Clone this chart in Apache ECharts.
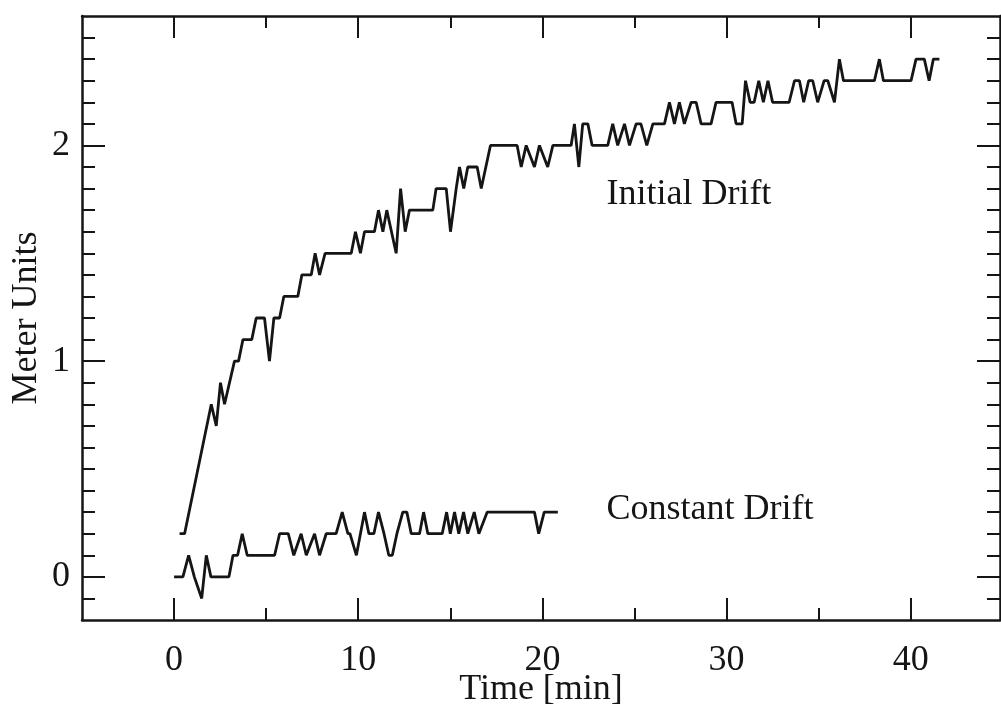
<!DOCTYPE html>
<html><head><meta charset="utf-8">
<script src="https://cdn.jsdelivr.net/npm/echarts@6/dist/echarts.min.js"></script>
<style>html,body{margin:0;padding:0;background:#fff;overflow:hidden}#c{width:1001px;height:711px}</style>
</head><body><div id="c"></div>
<script>
// Initial Drift series (time in min, meter units)
const initTime=[0.3,0.57,2.02,2.29,2.52,2.74,3.28,3.5,3.74,4.22,4.46,4.91,5.18,5.42,5.73,5.96,6.72,6.94,7.45,7.66,7.9,8.2,9.62,9.85,10.12,10.34,10.88,11.1,11.34,11.55,12.06,12.3,12.55,12.78,14.05,14.23,14.78,15.01,15.32,15.5,15.73,15.95,16.46,16.68,17.18,18.63,18.85,19.12,19.57,19.84,20.29,20.57,21.56,21.74,21.98,22.19,22.47,22.7,23.55,23.82,24.09,24.46,24.73,25.09,25.35,25.67,26.0,26.63,26.9,27.17,27.44,27.71,28.08,28.35,28.62,29.16,29.43,30.3,30.52,30.85,31.03,31.28,31.5,31.75,32.0,32.25,32.5,33.4,33.69,33.96,34.19,34.46,34.68,34.95,35.3,35.5,35.86,36.13,36.35,38.03,38.3,38.52,40.02,40.29,40.74,41.0,41.23,41.56];
const initValue=[0.2,0.2,0.8,0.7,0.9,0.8,1.0,1.0,1.1,1.1,1.2,1.2,1.0,1.2,1.2,1.3,1.3,1.4,1.4,1.5,1.4,1.5,1.5,1.6,1.5,1.6,1.6,1.7,1.6,1.7,1.5,1.8,1.6,1.7,1.7,1.8,1.8,1.6,1.8,1.9,1.8,1.9,1.9,1.8,2.0,2.0,1.9,2.0,1.9,2.0,1.9,2.0,2.0,2.1,1.9,2.1,2.1,2.0,2.0,2.1,2.0,2.1,2.0,2.1,2.1,2.0,2.1,2.1,2.2,2.1,2.2,2.1,2.2,2.2,2.1,2.1,2.2,2.2,2.1,2.1,2.3,2.2,2.2,2.3,2.2,2.3,2.2,2.2,2.3,2.3,2.2,2.3,2.3,2.2,2.3,2.3,2.2,2.4,2.3,2.3,2.4,2.3,2.3,2.4,2.4,2.3,2.4,2.4];
// Constant Drift series
const constTime=[0,0.48,0.79,1.1,1.2,1.5,1.75,2.0,2.98,3.2,3.45,3.7,3.97,5.46,5.73,6.2,6.5,6.9,7.18,7.63,7.9,8.26,8.8,9.13,9.44,9.55,9.9,10.0,10.34,10.58,10.85,11.1,11.4,11.66,11.85,12.1,12.42,12.64,12.88,13.33,13.55,13.78,14.56,14.8,15.0,15.23,15.46,15.72,15.95,16.3,16.55,17.0,19.57,19.8,20.1,20.84];
const constValue=[0,0,0.1,0,0,-0.1,0.1,0,0,0.1,0.1,0.2,0.1,0.1,0.2,0.2,0.1,0.2,0.1,0.2,0.1,0.2,0.2,0.3,0.2,0.2,0.1,0.1,0.3,0.2,0.2,0.3,0.2,0.1,0.1,0.2,0.3,0.3,0.2,0.2,0.3,0.2,0.2,0.3,0.2,0.3,0.2,0.3,0.2,0.3,0.2,0.3,0.3,0.2,0.3,0.3];
// Ticks
const xMajorTicks=[0,10,20,30,40];
const xMinorTicks=[5,15,25,35];
const yMajorTicks=[0,1,2];
const yMinorTicks=[-0.1,0.1,0.2,0.3,0.4,0.5,0.6,0.7,0.8,0.9,1.1,1.2,1.3,1.4,1.5,1.6,1.7,1.8,1.9,2.1,2.2,2.3,2.4,2.5];
// Labels
const xName='Time [min]';
const yName='Meter Units';
const initLabel='Initial Drift';
const constLabel='Constant Drift';

const FONT="'Liberation Serif','DejaVu Serif',serif";
const INK='#151515';
const X_MIN=-5, X_MAX=44.85, Y_MIN=-0.2, Y_MAX=2.6;

function zip(a,b){return a.map((t,i)=>[t,b[i]]);}

function xAx(pos,ticks,len,main){
  return {type:'value',position:pos,min:X_MIN,max:X_MAX,
    axisLine:{show:main,onZero:false,lineStyle:{color:INK,width:2.5}},
    axisTick:{show:true,inside:true,length:len,customValues:ticks,lineStyle:{color:INK,width:2}},
    axisLabel:(main&&pos==='bottom')?{show:true,customValues:xMajorTicks,fontFamily:FONT,fontSize:36,color:INK,margin:23}:{show:false},
    splitLine:{show:false},
    name:(main&&pos==='bottom')?xName:'',nameLocation:'middle',nameGap:52,nameMoveOverlap:false,
    nameTextStyle:{fontFamily:FONT,fontSize:36,color:INK}};
}
function yAx(pos,ticks,len,main){
  return {type:'value',position:pos,min:Y_MIN,max:Y_MAX,
    axisLine:{show:main,onZero:false,lineStyle:{color:INK,width:2.5}},
    axisTick:{show:true,inside:true,length:len,customValues:ticks,lineStyle:{color:INK,width:2}},
    axisLabel:(main&&pos==='left')?{show:true,customValues:yMajorTicks,fontFamily:FONT,fontSize:36,color:INK,margin:12}:{show:false},
    splitLine:{show:false},
    name:(main&&pos==='left')?yName:'',nameLocation:'middle',nameGap:37,nameMoveOverlap:false,
    nameTextStyle:{fontFamily:FONT,fontSize:36,color:INK}};
}

const chart=echarts.init(document.getElementById('c'),null,{renderer:'canvas'});
function annot(text,coord){
  return {symbol:'rect',symbolSize:1,itemStyle:{color:'rgba(0,0,0,0)'},silent:true,
    label:{show:true,position:'right',distance:0,formatter:text,fontFamily:FONT,fontSize:36,color:INK},
    data:[{coord:coord}]};
}
chart.setOption({
  backgroundColor:'#ffffff',
  animation:false,
  grid:{left:82,top:16,width:918,height:604,containLabel:false,outerBoundsMode:'none'},
  xAxis:[xAx('bottom',xMajorTicks,22,true),xAx('bottom',xMinorTicks,12,false),
         xAx('top',xMajorTicks,22,true),xAx('top',xMinorTicks,12,false)],
  yAxis:[yAx('left',yMajorTicks,23,true),yAx('left',yMinorTicks,13,false),
         yAx('right',yMajorTicks,23,true),yAx('right',yMinorTicks,13,false)],
  series:[
    {name:initLabel,type:'line',xAxisIndex:0,yAxisIndex:0,data:zip(initTime,initValue),
     showSymbol:false,lineStyle:{color:INK,width:2.8},itemStyle:{color:INK},
     markPoint:annot(initLabel,[23.45,1.77])},
    {name:constLabel,type:'line',xAxisIndex:0,yAxisIndex:0,data:zip(constTime,constValue),
     showSymbol:false,lineStyle:{color:INK,width:2.8},itemStyle:{color:INK},
     markPoint:annot(constLabel,[23.45,0.31])}
  ]
});
</script></body></html>
